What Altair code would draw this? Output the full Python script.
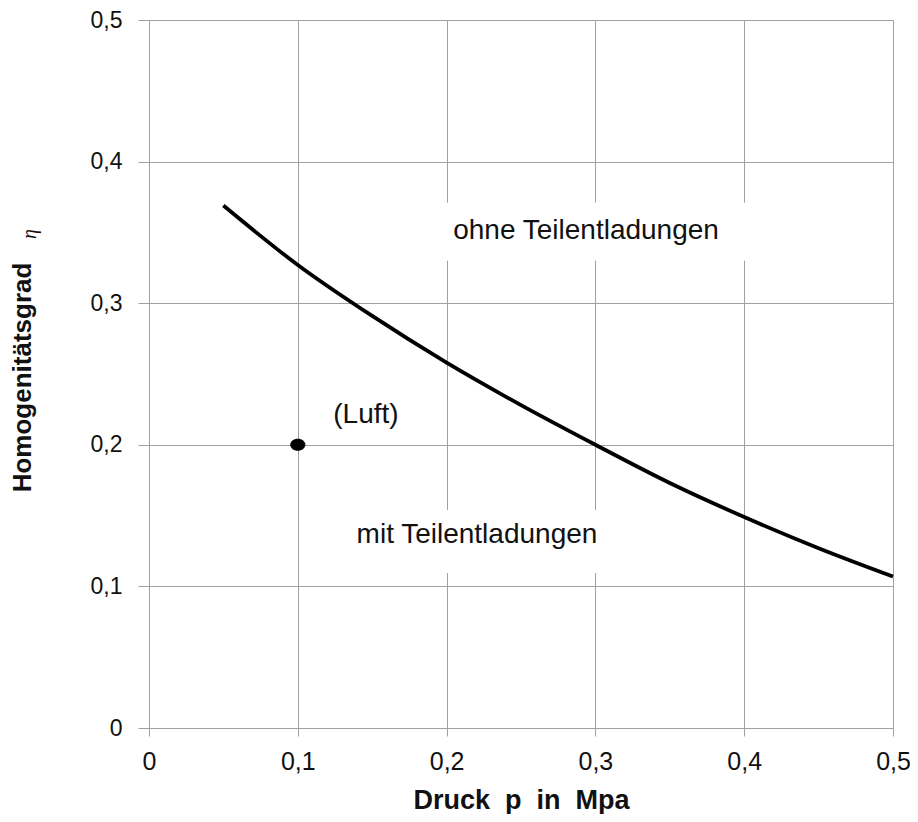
import altair as alt
import pandas as pd

# Curve: Homogenitätsgrad vs. Druck
p_vals = [0.05, 0.10, 0.15, 0.20, 0.25, 0.30, 0.35, 0.40, 0.45, 0.50]
eta_vals = [0.369, 0.327, 0.291, 0.258, 0.228, 0.200, 0.173, 0.149, 0.127, 0.107]

# Luft point
luft_p = [0.1]
luft_eta = [0.2]

# Annotations
ann_text = ["ohne Teilentladungen", "(Luft)", "mit Teilentladungen"]
ann_p = [0.2937, 0.1458, 0.2204]
ann_eta = [0.351, 0.221, 0.136]

# White label backgrounds (data coords)
box_p1 = [0.190, 0.128]
box_p2 = [0.405, 0.312]
box_e1 = [0.330, 0.1095]
box_e2 = [0.371, 0.154]

ticks = [0, 0.1, 0.2, 0.3, 0.4, 0.5]

curve_df = pd.DataFrame({"p": p_vals, "eta": eta_vals})
luft_df = pd.DataFrame({"p": luft_p, "eta": luft_eta})
ann_df = pd.DataFrame({"text": ann_text, "p": ann_p, "eta": ann_eta})
box_df = pd.DataFrame({"p1": box_p1, "p2": box_p2, "e1": box_e1, "e2": box_e2})
eta_sym_df = pd.DataFrame({"t": ["η"]})

label_expr = "datum.value == 0 ? '0' : replace(format(datum.value, '.1f'), '.', ',')"
FONT = "Liberation Sans"
GRID = "#a0a0a0"
NB = "\u00a0\u00a0"

xscale = alt.Scale(domain=[0, 0.5], nice=False, zero=False)
yscale = alt.Scale(domain=[0, 0.5], nice=False, zero=False)

xaxis = alt.Axis(values=ticks, labelExpr=label_expr, title=f"Druck{NB}p{NB}in{NB}Mpa",
                 grid=True, gridColor=GRID, gridWidth=1, domain=False, labelFlush=False,
                 tickColor=GRID, tickSize=8, labelFontSize=25, labelPadding=13,
                 labelColor="#111", labelFont=FONT, titleFont=FONT, titleFontSize=27,
                 titleFontWeight="bold", titleColor="#111",
                 titleBaseline="alphabetic", titleY=80, titleX=372)
yaxis = alt.Axis(values=ticks, labelExpr=label_expr, title="Homogenitätsgrad",
                 grid=True, gridColor=GRID, gridWidth=1, domain=False, labelFlush=False,
                 tickColor=GRID, tickSize=11, labelFontSize=23, labelPadding=16,
                 labelColor="#111", labelFont=FONT, titleFont=FONT, titleFontSize=26,
                 titleFontWeight="bold", titleColor="#111",
                 titleX=-114, titleY=357)

boxes = alt.Chart(box_df).mark_rect(color="white").encode(
    x=alt.X("p1:Q", scale=xscale, axis=xaxis),
    x2="p2:Q",
    y=alt.Y("e1:Q", scale=yscale, axis=yaxis),
    y2="e2:Q",
)

line = alt.Chart(curve_df).mark_line(color="black", strokeWidth=3.8, interpolate="monotone").encode(
    x=alt.X("p:Q", scale=xscale),
    y=alt.Y("eta:Q", scale=yscale),
)

dot = alt.Chart(luft_df).mark_point(filled=True, color="black", size=160, opacity=1,
                                    shape="M-1.2,0A1.2,0.95 0 1,0 1.2,0A1.2,0.95 0 1,0 -1.2,0Z").encode(
    x=alt.X("p:Q", scale=xscale),
    y=alt.Y("eta:Q", scale=yscale),
)

texts = alt.Chart(ann_df).mark_text(font=FONT, fontSize=28, color="#111",
                                    align="center", baseline="middle").encode(
    x=alt.X("p:Q", scale=xscale),
    y=alt.Y("eta:Q", scale=yscale),
    text="text:N",
)

eta_sym = alt.Chart(eta_sym_df).mark_text(font="Liberation Serif", fontSize=20,
                                          fontStyle="italic", color="#111", angle=270,
                                          align="center", baseline="middle").encode(
    x=alt.value(-119), y=alt.value(214), text="t:N",
)

chart = alt.layer(boxes, line, dot, texts, eta_sym).properties(
    width=744, height=708,
    autosize=alt.AutoSizeParams(type="none"),
    padding={"left": 141, "top": 12, "right": 17, "bottom": 86},
).configure_view(stroke="black", strokeWidth=2).configure(background="white")

chart.save("out.html", embed_options={"renderer": "svg", "actions": False})
